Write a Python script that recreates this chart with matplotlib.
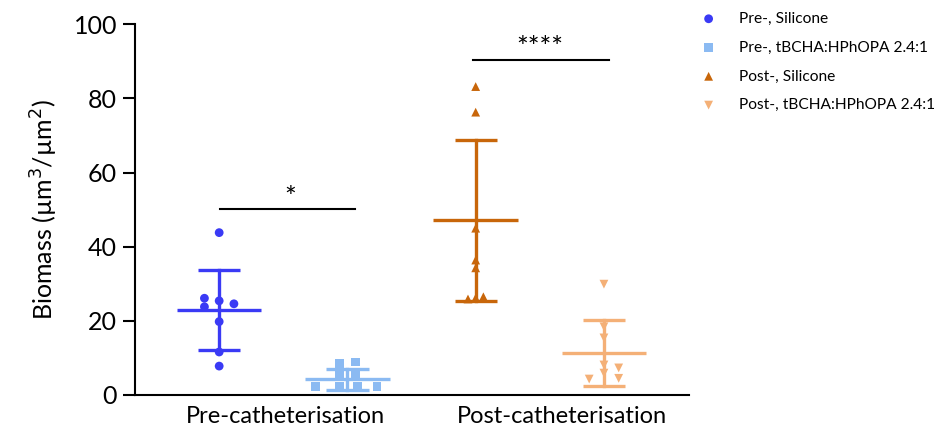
import numpy as np
import matplotlib
matplotlib.use("Agg")
import matplotlib.pyplot as plt

plt.rcParams['font.family'] = ['Lato', 'DejaVu Sans']

# Data
groups = ["Pre-, Silicone", "Pre-, tBCHA:HPhOPA 2.4:1",
          "Post-, Silicone", "Post-, tBCHA:HPhOPA 2.4:1"]
pre_silicone = [43.8, 26.1, 23.8, 25.4, 24.6, 19.8, 11.6, 7.8]
pre_tbcha = [8.6, 8.9, 5.9, 5.9, 2.2, 2.2, 2.2, 2.2]
post_silicone = [83.2, 76.3, 45.0, 36.4, 34.3, 26.2, 26.5, 25.9]
post_tbcha = [29.9, 18.4, 15.4, 8.1, 5.9, 7.3, 4.5, 4.3]
means = [23.0, 4.2, 47.1, 11.4]
sds = [10.8, 2.8, 21.7, 8.9]
categories = ["Pre-catheterisation", "Post-catheterisation"]

# horizontal jitter of points (in group-width units)
jitter = [
    [0, -0.115, -0.115, 0, 0.115, 0, 0, 0],
    [-0.06, 0.06, -0.06, 0.06, -0.25, -0.06, 0.08, 0.23],
    [0, 0, 0, 0, 0, 0, 0.06, -0.06],
    [0, 0, 0, 0, 0, 0.115, 0.115, -0.115],
]

values = [pre_silicone, pre_tbcha, post_silicone, post_tbcha]
colors = ["#3a3af5", "#8bbaf2", "#c8660a", "#f4b077"]
markers = ["o", "s", "^", "v"]
xpos = [1, 2, 3, 4]

fig = plt.figure(figsize=(9.51, 4.30), dpi=100)
ax = fig.add_axes([0.142, 0.0814, 0.5826, 0.8621])

handles = []
for i in range(4):
    x = xpos[i] + np.array(jitter[i])
    h = ax.scatter(x, values[i], marker=markers[i], s=40, color=colors[i],
                   edgecolors='none', zorder=3, clip_on=False, label=groups[i])
    handles.append(h)
    # mean line
    ax.plot([xpos[i] - 0.33, xpos[i] + 0.33], [means[i], means[i]],
            color=colors[i], lw=2.4, solid_capstyle='butt', zorder=2)
    # SD whiskers
    ax.plot([xpos[i], xpos[i]], [means[i] - sds[i], means[i] + sds[i]],
            color=colors[i], lw=2.4, zorder=2)
    for y in [means[i] - sds[i], means[i] + sds[i]]:
        ax.plot([xpos[i] - 0.165, xpos[i] + 0.165], [y, y],
                color=colors[i], lw=2.4, solid_capstyle='butt', zorder=2)

# significance bars
ax.plot([1.01, 2.06], [50.2, 50.2], color='black', lw=1.5)
ax.text(1.55, 49.5, "*", ha='center', va='bottom', fontsize=20)
ax.plot([2.98, 4.04], [90.5, 90.5], color='black', lw=1.5)
ax.text(3.5, 89.8, "****", ha='center', va='bottom', fontsize=20)

ax.set_xlim(0.344, 4.664)
ax.set_ylim(0, 100)
ax.set_yticks([0, 20, 40, 60, 80, 100])
ax.set_xticks([1.52, 3.67])
ax.set_xticklabels(categories)
ax.tick_params(axis='y', labelsize=18, length=9, width=1.5, pad=4)
ax.tick_params(axis='x', labelsize=17, length=0, pad=8)
ax.set_ylabel("Biomass (µm$^3$/µm$^2$)", fontsize=18, labelpad=10)
for s in ['top', 'right']:
    ax.spines[s].set_visible(False)
for s in ['left', 'bottom']:
    ax.spines[s].set_linewidth(1.5)

fig.legend(handles=handles, loc='upper left', bbox_to_anchor=(0.7206, 1.005),
           frameon=False, fontsize=11.2, handletextpad=1.35, labelspacing=0.95,
           handlelength=1.2, borderpad=0.4, markerscale=1.0)

fig.savefig("out.png", dpi=100)
